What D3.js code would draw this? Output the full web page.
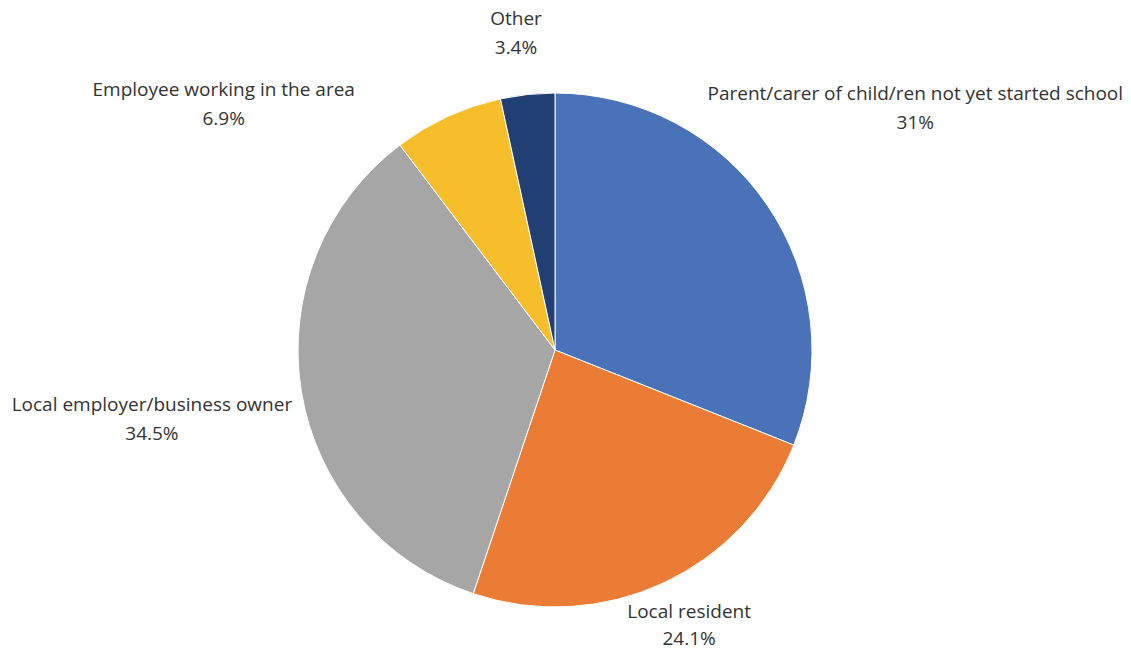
<!DOCTYPE html>
<html><head><meta charset="utf-8">
<script src="https://cdn.jsdelivr.net/npm/d3@7"></script>
<style>body{margin:0;background:#fff}text{font-family:"Open Sans","Noto Sans",sans-serif;fill:#333}</style>
</head><body><svg id="c" width="1131" height="655"></svg>
<script>
const categories = ["Parent/carer of child/ren not yet started school","Local resident","Local employer/business owner","Employee working in the area","Other"];
const values = [31, 24.1, 34.5, 6.9, 3.4];
const valueLabels = ["31%","24.1%","34.5%","6.9%","3.4%"];
const colors = ["#4a72b8","#eb7c35","#a5a6a5","#f7be2c","#213f72"];
// label nudges relative to outer-arc centroid (layout only)
const labelNudge = [[112,-78],[8,0],[-107,17],[-206,23],[-7,-23]];

const svg = d3.select("#c");
const cx = 555, cy = 350, r = 257;
const g = svg.append("g").attr("transform",`translate(${cx},${cy})`);
const data = categories.map((c,i)=>({cat:c,val:values[i],lab:valueLabels[i],i}));
const pie = d3.pie().value(d=>d.val).sort(null);
const arcs = pie(data);
const arc = d3.arc().innerRadius(0).outerRadius(r);
const outer = d3.arc().innerRadius(300).outerRadius(300);
g.selectAll("path").data(arcs).join("path")
  .attr("d",arc).attr("fill",d=>colors[d.data.i]).attr("stroke","#fff").attr("stroke-width",1);
const t = g.selectAll("text.l").data(arcs).join("text").attr("class","l")
  .attr("text-anchor","middle").attr("font-size",19)
  .attr("transform",d=>{const c=outer.centroid(d);const n=labelNudge[d.data.i];return `translate(${c[0]+n[0]},${c[1]+n[1]})`;});
t.append("tspan").attr("x",0).attr("y",-4).text(d=>d.data.cat);
t.append("tspan").attr("x",0).attr("y",d=>d.data.i===1?23:25).text(d=>d.data.lab);
</script></body></html>
